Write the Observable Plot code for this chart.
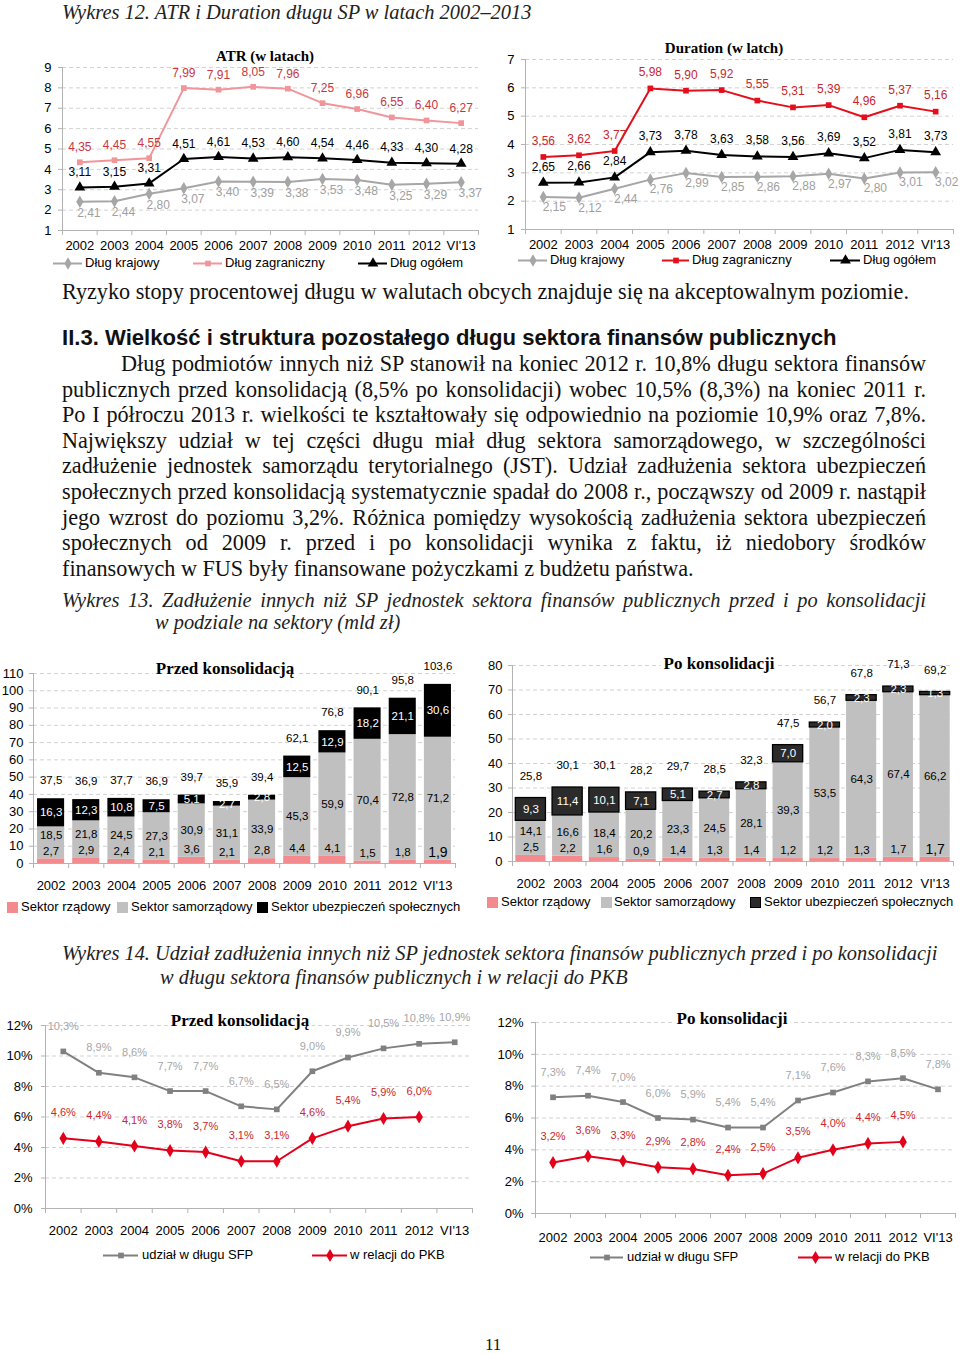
<!DOCTYPE html>
<html><head><meta charset="utf-8">
<script src="https://cdn.jsdelivr.net/npm/d3@7"></script>
<script src="https://cdn.jsdelivr.net/npm/@observablehq/plot@0.6"></script>
<style>
body{margin:0;background:#fff}
#page{position:relative;width:960px;height:1354px;overflow:hidden;background:#fff;color:#111}
.abs{position:absolute;white-space:nowrap}
.cap{font-family:"Liberation Serif","Times New Roman",serif;font-style:italic;font-size:20.4px;line-height:24px;color:#222}
.body{font-family:"Liberation Serif","Times New Roman",serif;font-size:22.2px;line-height:25.6px;color:#111}
.head{font-family:"Liberation Sans",Arial,sans-serif;font-weight:bold;font-size:22.1px;line-height:24px;color:#111}
.jl{text-align:justify;text-align-last:justify;width:864px;white-space:nowrap;height:25.6px}
.ttl{font-family:"Liberation Serif","Times New Roman",serif;font-weight:bold;transform:translate(-50%,-50%);background:#fff;padding:0 3px;color:#000}
.leg{font-family:"Liberation Sans",Arial,sans-serif;font-size:13px;line-height:14px;transform:translateY(-50%);color:#000}
</style></head>
<body>
<div id="page">
  <div class="abs cap" style="left:62px;top:0px">Wykres 12. ATR i Duration długu SP w latach 2002–2013</div>
  <div class="abs body" style="left:62px;top:279px">Ryzyko stopy procentowej długu w walutach obcych znajduje się na akceptowalnym poziomie.</div>
  <div class="abs head" style="left:62px;top:326px">II.3. Wielkość i struktura pozostałego długu sektora finansów publicznych</div>
  <div class="abs body" style="left:62px;top:351px;white-space:normal">
    <div class="jl" style="padding-left:59px;width:805px">Dług podmiotów innych niż SP stanowił na koniec 2012 r. 10,8% długu sektora finansów</div>
    <div class="jl">publicznych przed konsolidacją (8,5% po konsolidacji) wobec 10,5% (8,3%) na koniec 2011 r.</div>
    <div class="jl">Po I półroczu 2013 r. wielkości te kształtowały się odpowiednio na poziomie 10,9% oraz 7,8%.</div>
    <div class="jl">Największy udział w tej części długu miał dług sektora samorządowego, w szczególności</div>
    <div class="jl">zadłużenie jednostek samorządu terytorialnego (JST). Udział zadłużenia sektora ubezpieczeń</div>
    <div class="jl">społecznych przed konsolidacją systematycznie spadał do 2008 r., począwszy od 2009 r. nastąpił</div>
    <div class="jl">jego wzrost do poziomu 3,2%. Różnica pomiędzy wysokością zadłużenia sektora ubezpieczeń</div>
    <div class="jl">społecznych od 2009 r. przed i po konsolidacji wynika z faktu, iż niedobory środków</div>
    <div class="jl" style="text-align-last:left">finansowych w FUS były finansowane pożyczkami z budżetu państwa.</div>
  </div>
  <div class="abs cap" style="left:62px;top:588px;width:864px;text-align:justify;text-align-last:justify">Wykres 13. Zadłużenie innych niż SP jednostek sektora finansów publicznych przed i po konsolidacji</div>
  <div class="abs cap" style="left:155px;top:610px">w podziale na sektory (mld zł)</div>
  <div class="abs cap" style="left:62px;top:941px">Wykres 14. Udział zadłużenia innych niż SP jednostek sektora finansów publicznych przed i po konsolidacji</div>
  <div class="abs cap" style="left:160px;top:965px">w długu sektora finansów publicznych i w relacji do PKB</div>
  <div class="abs" style="left:485px;top:1335px;font-family:'Liberation Serif',serif;font-size:17px;line-height:20px">11</div>
</div>
<script>
// ---------- data ----------
const years = ["2002","2003","2004","2005","2006","2007","2008","2009","2010","2011","2012","VI'13"];

const atrKrajowy     = [2.41,2.44,2.80,3.07,3.40,3.39,3.38,3.53,3.48,3.25,3.29,3.37];
const atrZagraniczny = [4.35,4.45,4.55,7.99,7.91,8.05,7.96,7.25,6.96,6.55,6.40,6.27];
const atrOgolem      = [3.11,3.15,3.31,4.51,4.61,4.53,4.60,4.54,4.46,4.33,4.30,4.28];

const durKrajowy     = [2.15,2.12,2.44,2.76,2.99,2.85,2.86,2.88,2.97,2.80,3.01,3.02];
const durZagraniczny = [3.56,3.62,3.77,5.98,5.90,5.92,5.55,5.31,5.39,4.96,5.37,5.16];
const durOgolem      = [2.65,2.66,2.84,3.73,3.78,3.63,3.58,3.56,3.69,3.52,3.81,3.73];

const przedRzadowy      = [2.7,2.9,2.4,2.1,3.6,2.1,2.8,4.4,4.1,1.5,1.8,1.9];
const przedSamorzadowy  = [18.5,21.8,24.5,27.3,30.9,31.1,33.9,45.3,59.9,70.4,72.8,71.2];
const przedUbezpieczen  = [16.3,12.3,10.8,7.5,5.1,2.7,2.8,12.5,12.9,18.2,21.1,30.6];
const przedRazem        = [37.5,36.9,37.7,36.9,39.7,35.9,39.4,62.1,76.8,90.1,95.8,103.6];

const poRzadowy      = [2.5,2.2,1.6,0.9,1.4,1.3,1.4,1.2,1.2,1.3,1.7,1.7];
const poSamorzadowy  = [14.1,16.6,18.4,20.2,23.3,24.5,28.1,39.3,53.5,64.3,67.4,66.2];
const poUbezpieczen  = [9.3,11.4,10.1,7.1,5.1,2.7,2.8,7.0,2.0,2.3,2.3,1.3];
const poRazem        = [25.8,30.1,30.1,28.2,29.7,28.5,32.3,47.5,56.7,67.8,71.3,69.2];

const przedUdzial = [10.3,8.9,8.6,7.7,7.7,6.7,6.5,9.0,9.9,10.5,10.8,10.9];
const przedPKB    = [4.6,4.4,4.1,3.8,3.7,3.1,3.1,4.6,5.4,5.9,6.0,null];
const poUdzial    = [7.3,7.4,7.0,6.0,5.9,5.4,5.4,7.1,7.6,8.3,8.5,7.8];
const poPKB       = [3.2,3.6,3.3,2.9,2.8,2.4,2.5,3.5,4.0,4.4,4.5,null];

const ticksATR = [1,2,3,4,5,6,7,8,9];
const ticksDur = [1,2,3,4,5,6,7];
const ticksPrzed = [0,10,20,30,40,50,60,70,80,90,100,110];
const ticksPo = [0,10,20,30,40,50,60,70,80];
const ticksPct = [0,2,4,6,8,10,12];

const names12 = ["Dług krajowy","Dług zagraniczny","Dług ogółem"];
const names13 = ["Sektor rządowy","Sektor samorządowy","Sektor ubezpieczeń społecznych"];
const names14 = ["udział w długu SFP","w relacji do PKB"];
const titles = ["ATR (w latach)","Duration (w latch)","Przed konsolidacją","Po konsolidacji"];

// ---------- helpers ----------
const AX = "#b3b3b3", GRID = "#d2d2d2";
const FONT = '"Liberation Sans", Arial, sans-serif';
const fmt = (v, d) => v.toFixed(d).replace(".", ",");
const page = document.getElementById("page");

function place(el, left, top) {
  el.style.position = "absolute"; el.style.left = left + "px"; el.style.top = top + "px";
  page.appendChild(el);
}
function title(text, cx, cy, size) {
  const d = document.createElement("div");
  d.className = "abs ttl"; d.textContent = text; d.style.fontSize = size + "px"; d.style.lineHeight = (size + 2) + "px";
  place(d, cx, cy);
}
function legText(text, x, y) {
  const d = document.createElement("div");
  d.className = "abs leg"; d.textContent = text; place(d, x, y);
}
function legLine(x1, x2, y, color, symbol, r) {
  const w = x2 - x1;
  const svg = Plot.plot({width: w, height: 12, margin: 0, x: {domain: [0, 1], axis: null}, y: {domain: [0, 1], axis: null},
    style: {background: "transparent", overflow: "visible"},
    marks: [Plot.ruleY([0.5], {stroke: color, strokeWidth: 2}),
            Plot.dot([0.5], {x: d => d, y: 0.5, symbol, r, fill: color, stroke: "none"})]});
  place(svg, x1, y - 6);
}
function legSquare(x, y, size, fill, stroke) {
  const d = document.createElement("div");
  d.style.width = size + "px"; d.style.height = size + "px"; d.style.background = fill;
  d.style.boxSizing = "border-box"; if (stroke) d.style.border = "1.5px solid " + stroke;
  place(d, x, y - size / 2);
}

function frameMarks(width, height, m, yDomain, yTicks, yFmt, yPad, xPad) {
  const n = years.length;
  const step = (width - m.l - m.r) / n;
  const ph = height - m.t - m.b;
  return [
    Plot.gridY(yTicks, {stroke: GRID, strokeOpacity: 1, strokeDasharray: "4,3"}),
    Plot.ruleY([yDomain[0]], {stroke: AX}),
    Plot.ruleX([years[0]], {dx: -step / 2, stroke: AX}),
    Plot.ruleX(years, {dx: -step / 2, insetTop: ph, insetBottom: -5, stroke: AX}),
    Plot.ruleX([years[n - 1]], {dx: step / 2, insetTop: ph, insetBottom: -5, stroke: AX}),
    Plot.axisY({ticks: yTicks, tickFormat: yFmt, tickSize: 4, tickPadding: yPad, fontSize: 13, stroke: AX, fill: "#000", label: null}),
    Plot.axisX({tickSize: 0, tickPadding: xPad, fontSize: 13, fill: "#000", label: null})
  ];
}

function lineChart(c) {
  const rows = s => years.map((y, i) => ({c: y, v: s.values[i]})).filter(d => d.v != null);
  const marks = frameMarks(c.width, c.height, c.m, c.yDomain, c.yTicks, c.yFmt, c.yPad, c.xPad);
  for (const s of c.series) {
    marks.push(Plot.line(rows(s), {x: "c", y: "v", stroke: s.color, strokeWidth: s.sw}));
    marks.push(Plot.dot(rows(s), {x: "c", y: "v", symbol: s.symbol, r: s.r, fill: s.color, stroke: "none"}));
  }
  for (const s of c.series) {
    marks.push(Plot.text(rows(s), {x: "c", y: "v", text: d => s.fmt(d.v), fill: s.label, dx: s.dx, dy: s.dy, fontSize: s.fs}));
  }
  const svg = Plot.plot({
    width: c.width, height: c.height,
    marginTop: c.m.t, marginRight: c.m.r, marginBottom: c.m.b, marginLeft: c.m.l,
    x: {type: "band", domain: years, padding: 0, round: false, label: null},
    y: {domain: c.yDomain, label: null},
    style: {fontFamily: FONT, background: "transparent", overflow: "visible"},
    marks
  });
  place(svg, c.left, c.top);
}

function barChart(c) {
  const rows = years.flatMap((y, i) => [
    {c: y, s: "rz", v: c.rz[i], rz: c.rz[i], t: c.tot[i]},
    {c: y, s: "sam", v: c.sam[i], rz: c.rz[i], t: c.tot[i]},
    {c: y, s: "ub", v: c.ub[i], rz: c.rz[i], t: c.tot[i]}
  ]);
  const colors = {rz: "#f38a8e", sam: "#c0c0c0", ub: c.ubFill};
  const base = {x: "c", y: "v", z: "s"};
  const plotH = c.height - c.m.t - c.m.b;
  const gap = 24 * (c.yDomain[1] - c.yDomain[0]) / plotH; // keep the middle label clear of the label above the red segment
  const samRows = rows.filter(d => d.s === "sam");
  const marks = frameMarks(c.width, c.height, c.m, c.yDomain, c.yTicks, d => d, c.yPad, c.xPad);
  marks.push(
    Plot.barY(rows, {...base, fill: d => colors[d.s], stroke: "#000", strokeWidth: 1.3,
      strokeOpacity: d => (d.s === "ub" && c.ubStroke) ? 1 : 0}),
    Plot.text(samRows, {x: "c", y: d => Math.max(d.rz + d.v / 2, d.rz + gap), text: d => fmt(d.v, 1), fill: "#000", fontSize: 11.5}),
    Plot.text(rows, Plot.stackY({...base, text: d => d.s === "ub" ? fmt(d.v, 1) : "", fill: "#fff", fontSize: 11.5})),
    Plot.text(rows, Plot.stackY2({...base, text: d => d.s === "rz" ? fmt(d.v, 1) : "", fill: "#000",
      fontSize: d => d.c === "VI'13" ? 14 : 11.5, dy: c.rzDy})),
    Plot.text(rows, Plot.stackY2({...base, text: d => d.s === "ub" ? fmt(d.t, 1) : "", fill: "#000", fontSize: 11.5, dy: c.totDy}))
  );
  const svg = Plot.plot({
    width: c.width, height: c.height,
    marginTop: c.m.t, marginRight: c.m.r, marginBottom: c.m.b, marginLeft: c.m.l,
    x: {type: "band", domain: years, paddingInner: c.pad, paddingOuter: c.pad / 2, round: false, label: null},
    y: {domain: c.yDomain, label: null},
    style: {fontFamily: FONT, background: "transparent", overflow: "visible"},
    marks
  });
  place(svg, c.left, c.top);
}

// ---------- Wykres 12 ----------
lineChart({left: 0, top: 40, width: 490, height: 215, m: {l: 62, r: 12, t: 27, b: 25},
  yDomain: [1, 9], yTicks: ticksATR, yFmt: d => d, yPad: 7, xPad: 10,
  series: [
    {values: atrKrajowy, color: "#a6a6a6", symbol: "diamond", r: 3.8, sw: 2, label: "#a0a0a0", dx: 9, dy: 11, fs: 12, fmt: v => fmt(v, 2)},
    {values: atrZagraniczny, color: "#f0959a", symbol: "square", r: 3.2, sw: 2, label: "#c9383f", dx: 0, dy: -15, fs: 12, fmt: v => fmt(v, 2)},
    {values: atrOgolem, color: "#000", symbol: "triangle", r: 4, sw: 2, label: "#000", dx: 0, dy: -15, fs: 12, fmt: v => fmt(v, 2)}
  ]});
title(titles[0], 265, 56, 15);
legLine(53, 82, 263, "#a6a6a6", "diamond", 3.8); legText(names12[0], 85, 263);
legLine(193, 222, 263, "#f0959a", "square", 3.2); legText(names12[1], 225, 263);
legLine(358, 387, 263, "#000", "triangle", 4); legText(names12[2], 390, 263);

lineChart({left: 490, top: 35, width: 470, height: 219, m: {l: 35, r: 7, t: 24, b: 25},
  yDomain: [1, 7], yTicks: ticksDur, yFmt: d => d, yPad: 7, xPad: 10,
  series: [
    {values: durKrajowy, color: "#a6a6a6", symbol: "diamond", r: 3.8, sw: 2, label: "#a0a0a0", dx: 11, dy: 10, fs: 12, fmt: v => fmt(v, 2)},
    {values: durZagraniczny, color: "#e3101c", symbol: "square", r: 3.2, sw: 2, label: "#c8272f", dx: 0, dy: -16, fs: 12, fmt: v => fmt(v, 2)},
    {values: durOgolem, color: "#000", symbol: "triangle", r: 4, sw: 2, label: "#000", dx: 0, dy: -16, fs: 12, fmt: v => fmt(v, 2)}
  ]});
title(titles[1], 724, 48, 15);
legLine(518, 547, 260, "#a6a6a6", "diamond", 3.8); legText(names12[0], 550, 260);
legLine(662, 689, 260, "#e3101c", "square", 3.2); legText(names12[1], 692, 260);
legLine(830, 860, 260, "#000", "triangle", 4); legText(names12[2], 863, 260);

// ---------- Wykres 13 ----------
barChart({left: 0, top: 650, width: 480, height: 245, m: {l: 33, r: 25, t: 23, b: 32},
  yDomain: [0, 110], yTicks: ticksPrzed, yPad: 6, xPad: 17, pad: 0.23,
  rz: przedRzadowy, sam: przedSamorzadowy, ub: przedUbezpieczen, tot: przedRazem,
  ubFill: "#000", ubStroke: false, rzDy: -8, totDy: -18});
title(titles[2], 225, 668, 17);
legSquare(7, 907, 11, "#f38a8e"); legText(names13[0], 21, 907);
legSquare(117, 907, 11, "#c0c0c0"); legText(names13[1], 131, 907);
legSquare(257, 907, 11, "#000"); legText(names13[2], 271, 907);

barChart({left: 480, top: 645, width: 480, height: 246, m: {l: 32, r: 7, t: 20, b: 30},
  yDomain: [0, 80], yTicks: ticksPo, yPad: 6, xPad: 17, pad: 0.18,
  rz: poRzadowy, sam: poSamorzadowy, ub: poUbezpieczen, tot: poRazem,
  ubFill: "#2b2b2b", ubStroke: true, rzDy: -8, totDy: -22});
title(titles[3], 719, 663, 17);
legSquare(487, 902, 11, "#f38a8e"); legText(names13[0], 501, 902);
legSquare(601, 902, 11, "#c0c0c0"); legText(names13[1], 614, 902);
legSquare(750, 902, 11, "#2b2b2b", "#000"); legText(names13[2], 764, 902);

// ---------- Wykres 14 ----------
lineChart({left: 0, top: 1005, width: 480, height: 233, m: {l: 45, r: 8, t: 20, b: 30},
  yDomain: [0, 12], yTicks: ticksPct, yFmt: d => d + "%", yPad: 9, xPad: 17,
  series: [
    {values: przedUdzial, color: "#808080", symbol: "square", r: 3.2, sw: 2, label: "#a6a6a6", dx: 0, dy: -25, fs: 11, fmt: v => fmt(v, 1) + "%"},
    {values: przedPKB, color: "#e2001a", symbol: "diamond", r: 4, sw: 2, label: "#c8272f", dx: 0, dy: -26, fs: 11, fmt: v => fmt(v, 1) + "%"}
  ]});
title(titles[2], 240, 1020, 17);
legLine(103, 138, 1255, "#808080", "square", 3.2); legText(names14[0], 142, 1255);
legLine(312, 347, 1255, "#e2001a", "diamond", 4); legText(names14[1], 350, 1255);

lineChart({left: 480, top: 1000, width: 480, height: 243, m: {l: 55, r: 5, t: 22, b: 30},
  yDomain: [0, 12], yTicks: ticksPct, yFmt: d => d + "%", yPad: 8, xPad: 19,
  series: [
    {values: poUdzial, color: "#808080", symbol: "square", r: 3.2, sw: 2, label: "#a6a6a6", dx: 0, dy: -25, fs: 11, fmt: v => fmt(v, 1) + "%"},
    {values: poPKB, color: "#e2001a", symbol: "diamond", r: 4, sw: 2, label: "#c8272f", dx: 0, dy: -26, fs: 11, fmt: v => fmt(v, 1) + "%"}
  ]});
title(titles[3], 732, 1018, 17);
legLine(590, 623, 1257, "#808080", "square", 3.2); legText(names14[0], 627, 1257);
legLine(798, 832, 1257, "#e2001a", "diamond", 4); legText(names14[1], 835, 1257);
</script>
</body></html>
